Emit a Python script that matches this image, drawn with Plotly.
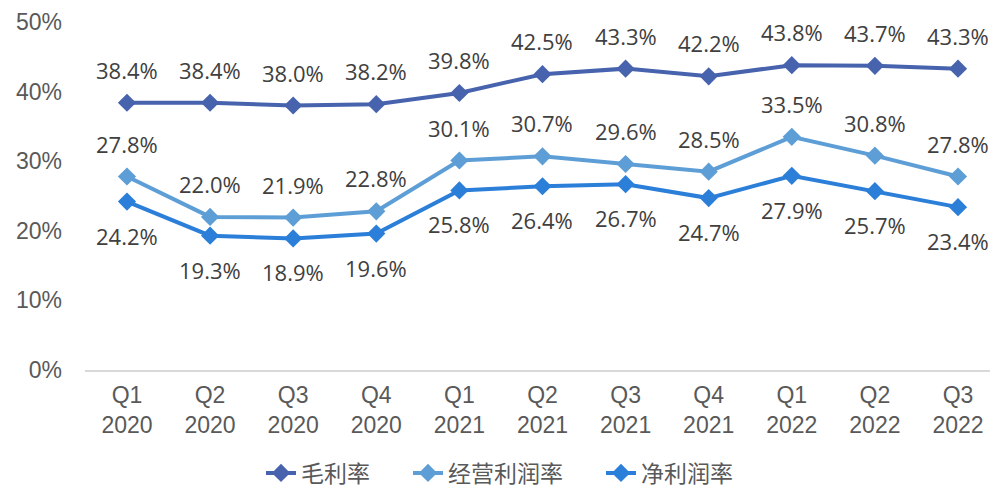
import plotly.graph_objects as go

quarters = ["Q1<br>2020", "Q2<br>2020", "Q3<br>2020", "Q4<br>2020",
            "Q1<br>2021", "Q2<br>2021", "Q3<br>2021", "Q4<br>2021",
            "Q1<br>2022", "Q2<br>2022", "Q3<br>2022"]
gross_margin = [38.4, 38.4, 38.0, 38.2, 39.8, 42.5, 43.3, 42.2, 43.8, 43.7, 43.3]
operating_margin = [27.8, 22.0, 21.9, 22.8, 30.1, 30.7, 29.6, 28.5, 33.5, 30.8, 27.8]
net_margin = [24.2, 19.3, 18.9, 19.6, 25.8, 26.4, 26.7, 24.7, 27.9, 25.7, 23.4]
y_ticks = [0, 10, 20, 30, 40, 50]

series = [
    ("毛利率", gross_margin, "#4763AE", 33, "legend", 261),
    ("经营利润率", operating_margin, "#5E9ED6", 33, "legend2", 408),
    ("净利润率", net_margin, "#2B7FD9", -34, "legend3", 601),
]

x_idx = list(range(len(quarters)))
fig = go.Figure()
annotations = []
legends = {}
for name, vals, color, shift, leg, lx in series:
    fig.add_trace(go.Scatter(
        x=x_idx, y=vals, name=name, mode="lines+markers",
        line=dict(color=color, width=4),
        marker=dict(symbol="diamond", size=14, color=color),
        legend=leg,
    ))
    for xi, v in zip(x_idx, vals):
        annotations.append(dict(
            x=xi, y=v, xref="x", yref="y", text=f"{v:.1f}%", showarrow=False,
            yshift=shift, font=dict(family="Open Sans", size=22, color="#404040"),
        ))
    legends[leg] = dict(
        orientation="h", x=lx / 993, xanchor="left", xref="container",
        y=1 - 473 / 489, yanchor="middle", yref="container",
        bgcolor="rgba(0,0,0,0)",
        font=dict(family="Noto Sans CJK SC", size=23, color="#595959"),
    )

fig.update_layout(
    width=993, height=489,
    margin=dict(l=85, r=3, t=22, b=119),
    plot_bgcolor="white", paper_bgcolor="white",
    showlegend=True,
    annotations=annotations,
    xaxis=dict(
        tickmode="array", tickvals=x_idx, ticktext=quarters,
        range=[-0.505, 10.385], showgrid=False, zeroline=False,
        showline=True, linecolor="#D9D9D9", linewidth=2,
        ticks="", ticklabelstandoff=3, automargin=False,
        tickfont=dict(family="Liberation Sans", size=23, color="#595959"),
    ),
    yaxis=dict(
        range=[0, 50], tickmode="array", tickvals=y_ticks,
        ticktext=[f"{t}%" for t in y_ticks],
        showgrid=False, zeroline=False, showline=False, ticks="",
        ticklabelstandoff=22, automargin=False,
        tickfont=dict(family="Liberation Sans", size=23, color="#595959"),
    ),
    **legends,
)

fig.write_html("out.html", config={"displayModeBar": False},
               post_script="document.body.style.margin='0';")
